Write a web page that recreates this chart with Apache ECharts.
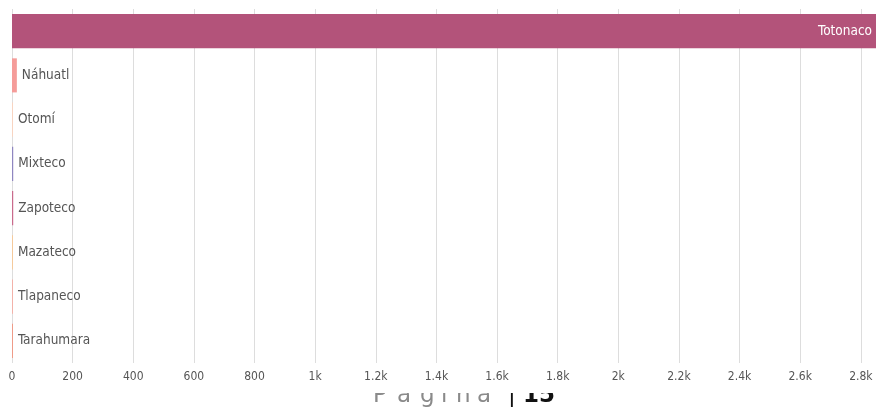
<!DOCTYPE html>
<html>
<head>
<meta charset="utf-8">
<script src="https://cdn.jsdelivr.net/npm/echarts@6/dist/echarts.min.js"></script>
<style>
html,body{margin:0;padding:0;background:#fff;}
#chart{width:876px;height:409px;}
</style>
</head>
<body>
<div id="chart"></div>
<script>
const categories = ['Totonaco','Náhuatl','Otomí','Mixteco','Zapoteco','Mazateco','Tlapaneco','Tarahumara'];
const values = [2850, 16, 3, 4, 4, 3, 3, 3];
const barColors = ['#b3537a','#f59c99','#fbd3be','#8f86c0','#c96b8c','#f8c896','#f6aea4','#f1947f'];
const tickInterval = 200;
const axisMax = 2850;
const footerLetters = ['P','a','g','i','n','a'];
const footerNum = '15';

const FONT = '"DejaVu Sans Condensed","DejaVu Sans",sans-serif';
const chart = echarts.init(document.getElementById('chart'), null, {renderer:'canvas'});

const data = values.map((v,i)=>({
  value: v,
  itemStyle: {color: barColors[i]},
  label: i === 0 ? {position:'insideRight', color:'#fff', distance:4} : {position:'right', color:'#555', distance:5}
}));

const footerX = [373, 397, 420, 441, 456, 477];
const graphics = footerLetters.map((ch,i)=>({
  type:'text', x:footerX[i], y:385, z:10,
  style:{text:ch, fontSize:23, fill:'#8a8a8a', fontFamily:'"DejaVu Sans",sans-serif'}
}));
graphics.push({type:'text', x:508, y:385, z:10,
  style:{text:'|', fontSize:23, fill:'#111', fontFamily:'"DejaVu Sans",sans-serif'}});
graphics.push({type:'text', x:523, y:385, z:10,
  style:{text:footerNum, fontSize:23, fill:'#111', fontWeight:'bold', fontFamily:'"DejaVu Sans",sans-serif'}});
graphics.push({type:'rect', z:11, shape:{x:360, y:382, width:220, height:11}, style:{fill:'#fff'}});

chart.setOption({
  animation:false,
  grid:{left:12, right:0, top:9, bottom:46, containLabel:false},
  xAxis:{
    type:'value', min:0, max:axisMax, interval:tickInterval,
    axisLine:{show:false}, axisTick:{show:false},
    splitLine:{show:true, showMaxLine:false, lineStyle:{color:'#dddddd', width:1}},
    axisLabel:{
      color:'#555', fontSize:12, fontFamily:FONT, margin:8, showMaxLabel:false,
      formatter: v => v >= 1000 ? (v/1000) + 'k' : String(v)
    }
  },
  yAxis:{
    type:'category', data:categories, inverse:true,
    axisLine:{show:false}, axisTick:{show:false}, axisLabel:{show:false}, splitLine:{show:false}
  },
  series:[{
    type:'bar', data:data, barCategoryGap:'23%',
    label:{show:true, formatter: p => p.name, fontSize:13.5, fontFamily:FONT}
  }],
  graphic:graphics
});
</script>
</body>
</html>
